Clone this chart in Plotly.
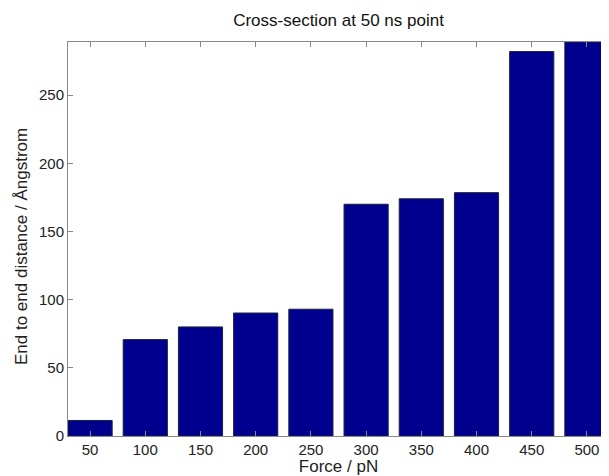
import plotly.graph_objects as go

forces = [50, 100, 150, 200, 250, 300, 350, 400, 450, 500]
distances = [11.4, 70.7, 80.0, 90.2, 93.0, 170.0, 174.0, 178.5, 282.0, 289.0]
y_ticks = [0, 50, 100, 150, 200, 250]

FONT = "Liberation Sans, Arial, sans-serif"

fig = go.Figure()
fig.add_trace(go.Bar(
    x=forces, y=distances,
    marker=dict(color="#00008F", line=dict(color="#202040", width=1)),
    width=40,
))

axis_common = dict(
    showline=True, linecolor="#888888", linewidth=1, mirror="ticks",
    ticks="inside", ticklen=5, tickcolor="#888888", tickwidth=1,
    showgrid=False, zeroline=False,
    tickfont=dict(family=FONT, size=15, color="#222222"),
)

# page body has an 8px margin, so the figure is shrunk to fit the 609x476 window
fig.update_layout(
    width=601, height=468,
    margin=dict(l=60, r=0, t=34, b=40),
    paper_bgcolor="white", plot_bgcolor="white",
    showlegend=False,
    title=dict(text="Cross-section at 50 ns point", x=0.5, xref="paper", xanchor="center",
               y=0.974, yref="container", yanchor="middle",
               font=dict(family=FONT, size=17, color="#111111")),
    xaxis=dict(range=[30, 520], tickvals=forces, ticktext=[str(f) for f in forces],
               title=dict(text="Force / pN", standoff=1,
                          font=dict(family=FONT, size=17, color="#222222")),
               **axis_common),
    yaxis=dict(range=[0, 289], tickvals=y_ticks, ticktext=[str(v) for v in y_ticks],
               **axis_common),
    annotations=[dict(
        text="End to end distance / Ångstrom", textangle=-90,
        xref="paper", yref="paper", x=-0.087, y=0.482,
        xanchor="center", yanchor="middle", showarrow=False,
        font=dict(family=FONT, size=17, color="#222222"),
    )],
)

fig.write_html("out.html")
